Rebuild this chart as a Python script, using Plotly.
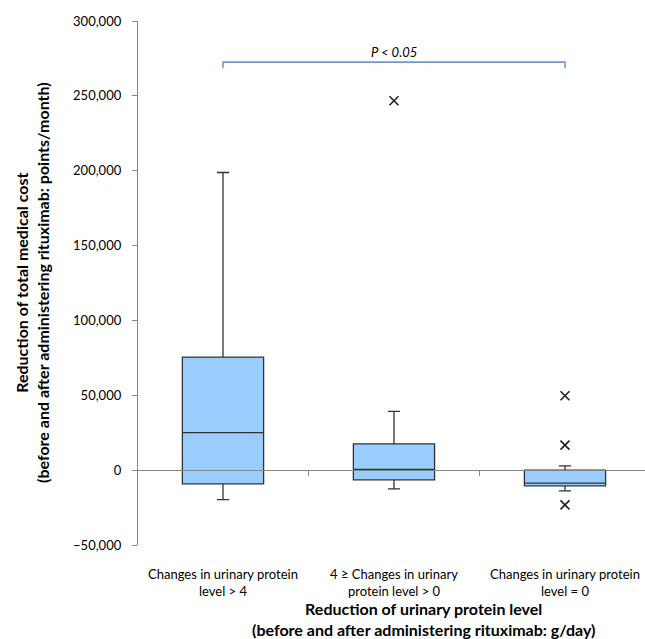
import plotly.graph_objects as go

# ---- data ----
categories = ["Changes in urinary protein<br>level > 4",
              "4 \u2265 Changes in urinary<br>protein level > 0",
              "Changes in urinary protein<br>level = 0"]
positions = [0, 1, 2]
q1 = [-9200, -6500, -10500]
median = [25000, 500, -8700]
q3 = [75500, 17600, 0]
lower_whisker = [-19700, -12500, -13900]
upper_whisker = [198800, 39200, 2900]
outlier_pos = [1, 2, 2, 2]
outlier_vals = [246700, 49700, 16700, -23200]
y_ticks = [-50000, 0, 50000, 100000, 150000, 200000, 250000, 300000]
bracket_pos = [0, 0, 2, 2]
bracket_y = [268500, 272500, 272500, 268500]
p_text = "P < 0.05"
p_y = 279500

FONT = "Lato, Carlito, Calibri, sans-serif"
AX = "#868686"

fig = go.Figure()
fig.add_trace(go.Box(
    x=positions, q1=q1, median=median, q3=q3,
    lowerfence=lower_whisker, upperfence=upper_whisker,
    width=0.475, whiskerwidth=0.15,
    fillcolor="#99CCFF", line=dict(color="#333333", width=1.3),
    boxpoints=False, hoverinfo="skip", showlegend=False,
))
fig.add_trace(go.Scatter(
    x=outlier_pos, y=outlier_vals, mode="markers",
    marker=dict(symbol="x-thin", size=9, line=dict(width=1.6, color="#222222")),
    showlegend=False, hoverinfo="skip",
))
fig.add_trace(go.Scatter(
    x=bracket_pos, y=bracket_y, mode="lines", xaxis="x2",
    line=dict(color="#7099CC", width=1.6),
    showlegend=False, hoverinfo="skip",
))

xr = [-0.497, 2.468]
fig.update_layout(
    width=645, height=639,
    margin=dict(l=138, r=0, t=21, b=94),
    plot_bgcolor="white", paper_bgcolor="white",
    font=dict(family=FONT, size=13, color="#000000"),
    xaxis=dict(range=xr, tickmode="array", tickvals=positions, ticktext=categories,
               showline=False, ticks="", showgrid=False, zeroline=False,
               ticklabelstandoff=20, tickfont=dict(size=13), automargin=False),
    xaxis2=dict(range=xr, overlaying="x", anchor="free", position=50000 / 350000,
                showline=True, linecolor=AX, linewidth=1.3,
                tickmode="array", tickvals=[0.5, 1.5], ticks="outside", ticklen=5,
                tickcolor=AX, showticklabels=False, showgrid=False, zeroline=False,
                automargin=False),
    yaxis=dict(range=[-50000, 300000], tickmode="array", tickvals=y_ticks,
               tickformat=",", showline=True, linecolor=AX, linewidth=1.3,
               ticks="outside", ticklen=5, tickcolor=AX, showgrid=False,
               zeroline=False, ticklabelstandoff=8, tickfont=dict(size=13),
               automargin=False),
    annotations=[
        dict(x=1, y=p_y, xref="x2", yref="y", text="<i>" + p_text + "</i>",
             showarrow=False, font=dict(size=13), xanchor="center", yanchor="middle"),
        dict(x=(32 - 138) / 507, y=0.5, xref="paper", yref="paper",
             text="<b>Reduction of total medical cost<br>(before and after administering rituximab: points/month)</b>",
             textangle=-90, showarrow=False, font=dict(size=16),
             xanchor="center", yanchor="middle"),
        dict(x=(423 - 138) / 507, y=(545 - 619) / 524, xref="paper", yref="paper",
             text="<b>Reduction of urinary protein level<br>(before and after administering rituximab: g/day)</b>",
             showarrow=False, font=dict(size=16), xanchor="center", yanchor="middle"),
    ],
)

fig.write_html("out.html", config={"displayModeBar": False},
               post_script="document.body.style.margin='0';")
